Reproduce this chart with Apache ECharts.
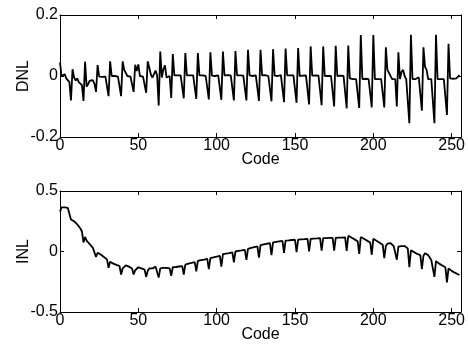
<!DOCTYPE html>
<html>
<head>
<meta charset="utf-8">
<script src="https://cdn.jsdelivr.net/npm/echarts@6/dist/echarts.min.js"></script>
<style>
html,body{margin:0;padding:0;background:#fff;}
#chart{width:468px;height:345px;}
</style>
</head>
<body>
<div id="chart"></div>
<script>
// Code axis
var codeStart = 0;
var xTicks = [0, 50, 100, 150, 200, 250];
var dnlTicks = [-0.2, 0, 0.2];
var inlTicks = [-0.5, 0, 0.5];

// DNL per code (codes 0..255), rows of 8 codes
var dnl = [
  0.045, 0.0, -0.005, 0.006, -0.008, -0.004, -0.02, -0.08,
  0.022, -0.005, -0.015, -0.008, -0.02, -0.024, -0.03, -0.082,
  0.047, -0.035, -0.026, -0.015, -0.02, -0.014, -0.026, -0.052,
  0.036, -0.002, 0.0, -0.003, 0.0, -0.002, 0.0, -0.066,
  0.048, 0.0, -0.002, 0.0, 0.001, -0.002, 0.0, -0.066,
  0.048, 0.02, 0.016, 0.0, 0.0, -0.002, 0.0, -0.052,
  0.037, 0.016, 0.038, 0.0, 0.0, -0.002, 0.0, -0.055,
  0.048, 0.027, 0.005, -0.005, 0.0, 0.018, 0.002, -0.097,
  0.08, -0.005, 0.022, 0.035, -0.005, -0.01, 0.0, -0.072,
  0.072, 0.002, 0.0, 0.002, 0.001, 0.002, 0.0, -0.073,
  0.075, 0.002, 0.001, 0.002, 0.0, 0.002, 0.001, -0.075,
  0.075, 0.002, 0.0, 0.002, 0.002, 0.0, 0.002, -0.077,
  0.078, 0.001, 0.002, 0.0, 0.003, 0.002, 0.0, -0.078,
  0.08, 0.002, 0.001, 0.003, 0.0, 0.002, 0.002, -0.08,
  0.082, 0.002, 0.0, 0.002, 0.003, 0.001, 0.002, -0.08,
  0.086, 0.002, 0.003, 0.0, 0.002, 0.002, 0.001, -0.082,
  0.086, 0.002, 0.0, 0.003, 0.002, 0.0, 0.002, -0.083,
  0.088, 0.001, 0.002, 0.0, 0.002, 0.003, 0.0, -0.086,
  0.09, 0.002, 0.0, 0.002, 0.001, 0.002, 0.0, -0.088,
  0.092, 0.0, 0.002, 0.001, 0.0, 0.002, 0.0, -0.093,
  0.097, 0.001, 0.0, 0.002, 0.0, 0.001, 0.0, -0.096,
  0.097, 0.0, 0.001, 0.0, 0.001, 0.0, 0.0, -0.1,
  0.099, 0.0, 0.0, 0.001, 0.0, 0.0, 0.0, -0.106,
  0.1, -0.008, -0.01, -0.01, -0.009, -0.01, -0.01, -0.105,
  0.134, -0.01, -0.01, -0.009, -0.01, -0.01, -0.01, -0.103,
  0.134, -0.01, -0.01, -0.01, -0.009, -0.01, -0.01, -0.103,
  0.094, 0.02, 0.01, 0.016, -0.01, -0.01, -0.01, -0.1,
  0.078, -0.01, 0.013, 0.02, 0.0, -0.01, -0.008, -0.155,
  0.135, -0.01, -0.01, -0.01, -0.009, -0.004, 0.0, -0.114,
  0.094, 0.03, 0.02, -0.01, -0.01, -0.01, -0.01, -0.155,
  0.135, -0.01, -0.01, -0.01, -0.009, -0.01, -0.01, -0.128,
  0.106, -0.008, -0.008, -0.009, -0.008, -0.008, -0.005, 0.003
];

// INL per code (codes 0..255), rows of 8 codes
var inl = [
  0.33, 0.365, 0.37, 0.365, 0.365, 0.36, 0.35, 0.265,
  0.27, 0.25, 0.24, 0.225, 0.21, 0.19, 0.165, 0.075,
  0.12, 0.09, 0.075, 0.06, 0.045, 0.03, 0.015, -0.045,
  -0.01, -0.015, -0.025, -0.035, -0.045, -0.055, -0.065, -0.135,
  -0.085, -0.09, -0.1, -0.105, -0.11, -0.115, -0.12, -0.19,
  -0.14, -0.125, -0.115, -0.12, -0.125, -0.13, -0.14, -0.19,
  -0.155, -0.14, -0.13, -0.135, -0.14, -0.145, -0.15, -0.21,
  -0.16, -0.14, -0.135, -0.14, -0.14, -0.125, -0.125, -0.215,
  -0.14, -0.145, -0.135, -0.13, -0.135, -0.14, -0.14, -0.2,
  -0.13, -0.13, -0.128, -0.126, -0.124, -0.122, -0.12, -0.19,
  -0.108, -0.105, -0.1, -0.097, -0.094, -0.09, -0.087, -0.165,
  -0.078, -0.075, -0.072, -0.07, -0.067, -0.064, -0.061, -0.145,
  -0.055, -0.052, -0.048, -0.045, -0.042, -0.039, -0.036, -0.125,
  -0.022, -0.02, -0.018, -0.016, -0.014, -0.011, -0.008, -0.09,
  0.0, 0.002, 0.005, 0.007, 0.009, 0.012, 0.014, -0.07,
  0.022, 0.025, 0.029, 0.032, 0.036, 0.039, 0.042, -0.05,
  0.052, 0.055, 0.058, 0.061, 0.064, 0.067, 0.069, -0.03,
  0.075, 0.077, 0.079, 0.082, 0.084, 0.086, 0.088, -0.012,
  0.09, 0.091, 0.092, 0.094, 0.095, 0.096, 0.097, -0.005,
  0.098, 0.099, 0.1, 0.101, 0.102, 0.104, 0.105, 0.0,
  0.105, 0.106, 0.107, 0.108, 0.108, 0.109, 0.11, 0.008,
  0.11, 0.111, 0.111, 0.112, 0.112, 0.113, 0.113, 0.008,
  0.113, 0.114, 0.114, 0.115, 0.115, 0.116, 0.116, 0.005,
  0.13, 0.123, 0.115, 0.108, 0.1, 0.093, 0.085, -0.02,
  0.12, 0.113, 0.105, 0.098, 0.09, 0.083, 0.075, -0.027,
  0.105, 0.097, 0.088, 0.08, 0.072, 0.063, 0.055, -0.055,
  0.045, 0.065, 0.075, 0.07, 0.058, 0.045, 0.03, -0.068,
  0.04, 0.035, 0.045, 0.05, 0.045, 0.035, 0.025, -0.13,
  0.01, 0.0, -0.005, -0.012, -0.02, -0.025, -0.03, -0.145,
  -0.035, -0.015, -0.01, -0.03, -0.05, -0.07, -0.085, -0.21,
  -0.08, -0.09, -0.1, -0.105, -0.115, -0.12, -0.13, -0.255,
  -0.14, -0.15, -0.16, -0.168, -0.175, -0.182, -0.188, -0.193
];

function pairs(arr) {
  return arr.map(function (v, i) { return [codeStart + i, v]; });
}

var FONT = "'Liberation Sans', Arial, Helvetica, sans-serif";
var chart = echarts.init(document.getElementById('chart'), null, {renderer: 'canvas'});

function xAx(gi, pos, showLabel) {
  return {
    type: 'value', gridIndex: gi, position: pos,
    min: xTicks[0], max: 256, interval: 50,
    axisLine: {show: true, onZero: false, lineStyle: {color: '#000', width: 1}},
    axisTick: {show: true, inside: true, length: 4, lineStyle: {color: '#000'}},
    axisLabel: {show: showLabel, color: '#000', fontSize: 16, fontFamily: FONT, margin: 1,
      showMaxLabel: false},
    splitLine: {show: false},
    name: showLabel ? 'Code' : '', nameLocation: 'middle', nameGap: 15,
    nameMoveOverlap: false,
    nameTextStyle: {color: '#000', fontSize: 16, fontFamily: FONT}
  };
}
function yAx(gi, pos, ticks, name, showLabel) {
  return {
    type: 'value', gridIndex: gi, position: pos,
    min: ticks[0], max: ticks[ticks.length - 1], interval: ticks[1] - ticks[0],
    axisLine: {show: true, onZero: false, lineStyle: {color: '#000', width: 1}},
    axisTick: {show: true, inside: true, length: 4, lineStyle: {color: '#000'}},
    axisLabel: {show: showLabel, color: '#000', fontSize: 16, fontFamily: FONT, margin: 2},
    splitLine: {show: false},
    name: showLabel ? name : '', nameLocation: 'middle', nameGap: 28, nameRotate: 90,
    nameMoveOverlap: false,
    nameTextStyle: {color: '#000', fontSize: 16, fontFamily: FONT}
  };
}

chart.setOption({
  animation: false,
  backgroundColor: '#fff',
  grid: [
    {left: 60, top: 15, width: 406, height: 122},
    {left: 60, top: 191, width: 406, height: 121}
  ],
  xAxis: [
    xAx(0, 'bottom', true), xAx(0, 'top', false),
    xAx(1, 'bottom', true), xAx(1, 'top', false)
  ],
  yAxis: [
    yAx(0, 'left', dnlTicks, 'DNL', true), yAx(0, 'right', dnlTicks, '', false),
    yAx(1, 'left', inlTicks, 'INL', true), yAx(1, 'right', inlTicks, '', false)
  ],
  series: [
    {type: 'line', xAxisIndex: 0, yAxisIndex: 0, data: pairs(dnl), showSymbol: false,
      lineStyle: {color: '#000', width: 1.8}, z: 3},
    {type: 'line', xAxisIndex: 2, yAxisIndex: 2, data: pairs(inl), showSymbol: false,
      lineStyle: {color: '#000', width: 1.8}, z: 3}
  ]
});
</script>
</body>
</html>
